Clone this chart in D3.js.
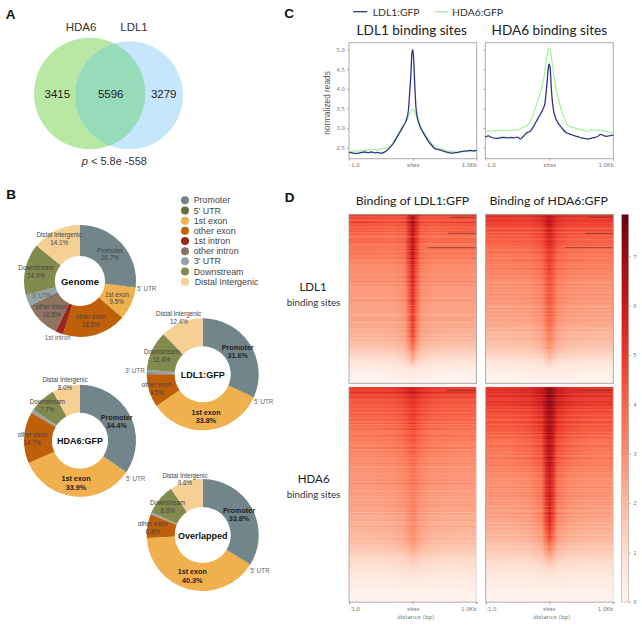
<!DOCTYPE html>
<html><head><meta charset="utf-8">
<script src="https://cdn.jsdelivr.net/npm/d3@7/dist/d3.min.js"></script>
<style>html,body{margin:0;padding:0;background:#fff}svg{display:block}
text{font-family:"Liberation Sans",Arial,sans-serif}
.lato{font-family:Lato,sans-serif}
.axis text{font-family:"DejaVu Sans",sans-serif;font-size:5.4px;fill:#777}
.axis path,.axis line{stroke:#999;stroke-width:.8}
</style></head><body><script>
// ---------- DATA ----------
const vennNames=["HDA6","LDL1"];
const vennCounts=[3415,5596,3279];
const vennP="5.8e -558";

const featureNames=["Promoter","5' UTR","1st exon","other exon","1st intron","other intron","3' UTR","Downstream","Distal Intergenic"];
const genomeShares=[26.7,0.2,9.5,18.5,2.3,10.5,3.3,14.9,14.1];
const ldl1Shares=[31.6,0.3,33.8,9.5,0.1,0.4,0.9,11.4,12.4];
const hda6Shares=[34.4,0.2,33.9,14.7,0.1,0.2,0.8,7.7,8.0];
const overlapShares=[33.8,0.2,40.3,6.8,0.1,0.1,0.5,8.8,9.6];
const featureColors=["#72858a","#69703f","#f0b04e","#c05f0a","#98281c","#8e7360","#93a3a6","#838a4e","#f5cf94"];

const profileX=[-1,-.95,-.9,-.85,-.8,-.75,-.7,-.65,-.6,-.55,-.5,-.45,-.4,-.35,-.3,-.25,-.2,-.15,-.1,-.07,-.05,-.03,-.015,0,.015,.03,.05,.07,.1,.15,.2,.25,.3,.35,.4,.45,.5,.55,.6,.65,.7,.75,.8,.85,.9,.95,1];
const ldl1AtLdl1=[2.38,2.37,2.35,2.36,2.38,2.39,2.37,2.39,2.37,2.38,2.36,2.38,2.44,2.52,2.62,2.76,2.9,3.05,3.22,3.45,3.9,4.4,4.9,5.0,4.7,4.1,3.5,3.28,3.1,2.92,2.78,2.65,2.55,2.47,2.45,2.43,2.4,2.38,2.36,2.37,2.38,2.4,2.41,2.42,2.43,2.42,2.43];
const hda6AtLdl1=[2.4,2.41,2.42,2.42,2.43,2.44,2.44,2.45,2.45,2.44,2.47,2.49,2.5,2.56,2.66,2.8,2.95,3.06,3.18,3.28,3.35,3.42,3.47,3.49,3.45,3.4,3.32,3.22,3.1,2.95,2.82,2.7,2.6,2.53,2.48,2.47,2.44,2.42,2.41,2.4,2.39,2.4,2.41,2.4,2.41,2.4,2.41];
const ldl1AtHda6=[2.77,2.8,2.76,2.74,2.74,2.76,2.76,2.75,2.76,2.75,2.77,2.72,2.8,2.88,2.92,3.03,3.18,3.32,3.48,3.62,3.9,4.25,4.55,4.63,4.5,4.05,3.65,3.42,3.25,3.1,3.0,2.9,2.86,2.83,2.8,2.78,2.75,2.74,2.72,2.74,2.76,2.78,2.84,2.81,2.79,2.81,2.82];
const hda6AtHda6=[2.89,2.93,2.92,2.93,2.94,2.95,2.94,2.95,2.94,2.95,2.95,2.98,3.03,3.07,3.15,3.35,3.6,3.85,4.15,4.45,4.7,4.9,5.02,5.05,5.0,4.85,4.6,4.35,4.05,3.7,3.4,3.2,3.05,3.03,3.0,2.98,2.96,2.94,2.92,2.96,2.94,2.95,2.94,2.92,2.91,2.89,2.88];
const yTickValues=[2.5,3,3.5,4,4.5,5];
const siteTickLabels=["-1.0","sites","1.0Kb"];
const colorTicks=[0,1,2,3,4,5,6,7];

// heatmap rows, top to bottom; columns are distance from site centre
const heatDistance=[1,.6,.3,.12,.05,0];
const heatLdl1AtLdl1=[[4.7,4.6,4.5,4.6,5.6,6.6],[4.5,4.4,4.3,4.4,5.5,6.5],[4.2,4.1,4.0,4.2,5.3,6.4],[3.9,3.9,3.8,4.0,5.2,6.3],[3.7,3.7,3.6,3.8,5.0,6.2],[3.5,3.5,3.4,3.7,4.9,6.1],[3.3,3.3,3.3,3.6,4.8,6.0],[3.1,3.1,3.1,3.4,4.6,5.8],[3.0,3.0,3.0,3.3,4.5,5.6],[2.9,2.9,2.9,3.2,4.4,5.5],[2.8,2.8,2.8,3.1,4.3,5.4],[2.7,2.7,2.7,3.0,4.2,5.3],[2.6,2.6,2.6,2.9,4.1,5.2],[2.5,2.5,2.5,2.8,4.0,5.1],[2.4,2.4,2.4,2.7,3.8,5.0],[2.2,2.2,2.3,2.6,3.6,4.8],[2.0,2.0,2.1,2.4,3.4,4.5],[1.8,1.8,1.9,2.2,3.0,4.0],[1.3,1.3,1.4,1.7,2.2,3.0],[0.8,0.8,0.9,1.1,1.5,2.2],[0.4,0.4,0.5,0.6,0.7,0.9],[0.15,0.15,0.2,0.25,0.3,0.3]];
const heatHda6AtLdl1=[[5.1,5.0,5.0,5.3,5.9,6.3],[4.8,4.8,4.8,5.1,5.7,6.1],[4.5,4.5,4.5,4.8,5.4,5.8],[4.2,4.2,4.2,4.6,5.2,5.6],[3.9,3.9,4.0,4.3,4.9,5.3],[3.7,3.7,3.8,4.1,4.7,5.1],[3.5,3.5,3.6,3.9,4.5,4.9],[3.3,3.3,3.4,3.7,4.3,4.7],[3.1,3.1,3.2,3.5,4.2,4.6],[3.0,3.0,3.1,3.4,4.1,4.5],[2.9,2.9,3.0,3.3,4.0,4.4],[2.8,2.8,2.9,3.2,3.9,4.3],[2.7,2.7,2.8,3.1,3.8,4.2],[2.6,2.6,2.7,3.0,3.7,4.1],[2.4,2.4,2.5,2.8,3.5,3.9],[2.2,2.2,2.3,2.6,3.3,3.7],[2.0,2.0,2.1,2.4,3.0,3.4],[1.7,1.7,1.8,2.1,2.6,3.0],[1.3,1.3,1.4,1.6,2.0,2.4],[0.8,0.8,0.9,1.0,1.3,1.7],[0.4,0.4,0.5,0.5,0.6,0.8],[0.15,0.15,0.2,0.2,0.25,0.3]];
const heatLdl1AtHda6=[[4.9,4.9,5.0,5.3,5.6,5.8],[4.6,4.6,4.7,5.0,5.3,5.5],[4.3,4.3,4.4,4.7,5.0,5.2],[4.0,4.0,4.1,4.4,4.7,4.9],[3.8,3.8,3.9,4.2,4.5,4.7],[3.6,3.6,3.7,4.0,4.3,4.5],[3.4,3.4,3.5,3.8,4.1,4.3],[3.2,3.2,3.3,3.6,3.9,4.1],[3.1,3.1,3.2,3.4,3.7,3.9],[3.0,3.0,3.1,3.3,3.6,3.8],[2.9,2.9,3.0,3.2,3.5,3.7],[2.8,2.8,2.9,3.1,3.4,3.6],[2.7,2.7,2.8,3.0,3.3,3.5],[2.6,2.6,2.7,2.9,3.2,3.4],[2.4,2.4,2.5,2.7,3.1,3.3],[2.3,2.3,2.4,2.6,3.0,3.2],[2.1,2.1,2.2,2.5,2.8,3.0],[1.9,1.9,2.0,2.3,2.6,2.8],[1.6,1.6,1.7,1.9,2.2,2.4],[1.2,1.2,1.3,1.4,1.6,1.8],[0.9,0.9,0.9,1.0,1.1,1.2],[0.6,0.6,0.6,0.7,0.7,0.8],[0.35,0.35,0.35,0.4,0.4,0.4],[0.15,0.15,0.15,0.2,0.2,0.2]];
const heatHda6AtHda6=[[5.4,5.4,5.6,6.1,6.9,7.4],[5.1,5.1,5.3,5.8,6.7,7.2],[4.8,4.8,5.0,5.5,6.5,7.0],[4.5,4.5,4.7,5.2,6.3,6.8],[4.3,4.3,4.5,5.0,6.1,6.6],[4.0,4.0,4.3,4.8,6.0,6.5],[3.8,3.8,4.1,4.6,5.9,6.4],[3.6,3.6,3.9,4.4,5.7,6.3],[3.4,3.4,3.7,4.2,5.5,6.2],[3.3,3.3,3.5,4.0,5.4,6.1],[3.1,3.1,3.3,3.8,5.3,6.0],[3.0,3.0,3.2,3.7,5.2,5.9],[2.9,2.9,3.1,3.6,5.1,5.8],[2.8,2.8,3.0,3.5,5.0,5.7],[2.6,2.6,2.8,3.3,4.8,5.6],[2.4,2.4,2.6,3.1,4.6,5.4],[2.2,2.2,2.4,2.8,4.2,5.0],[1.9,1.9,2.1,2.5,3.6,4.3],[1.6,1.6,1.7,2.0,2.7,3.2],[1.2,1.2,1.3,1.5,1.9,2.2],[0.9,0.9,0.9,1.0,1.2,1.4],[0.6,0.6,0.6,0.7,0.8,0.8],[0.35,0.35,0.35,0.4,0.4,0.4],[0.15,0.15,0.15,0.2,0.2,0.2]];
// row-to-row texture of the heatmaps (relative deviation)
const rowStreak=[.04,-.05,.09,-.02,-.08,.03,.12,-.06,.01,-.1,.06,.02,-.04,.1,-.07,-.01,.05,-.11,.08,.03,-.06,.13,-.03,-.09,.02,.07,-.05,.04,-.12,.09,.01,-.04,.06,-.08,.14,-.02,-.06,.03,.08,-.1,.05,-.03,.11,-.07,.02,-.05,.07,-.09,.04,.1,-.02,-.12,.06,.01,-.06,.09,-.04,.03,-.08,.12,-.01];
const colorMax=7.85;

// ---------- LAYOUT ----------
const W=642,H=626;
const svg=d3.select("body").append("svg").attr("width",W).attr("height",H);
const defs=svg.append("defs");
const label=(x,y,t,o={})=>svg.append("text").attr("x",x).attr("y",y).attr("dy",".35em")
  .attr("text-anchor",o.anchor||"middle").attr("font-size",o.size||6.3).attr("font-weight",o.bold?"bold":"normal")
  .attr("fill",o.fill||"#333").attr("class",o.cls||null).text(t);

[["A",10.7,14],["C",289,13],["B",11,194.7],["D",289.7,197.3]].forEach(d=>label(d[1],d[2],d[0],{size:13.5,bold:1,fill:"#111"}));

// ---- A: Venn ----
const vA={x:89.7,y:93.5,r:55.7},vB={x:129,y:95.3,r:54};
svg.append("circle").attr("cx",vA.x).attr("cy",vA.y).attr("r",vA.r).attr("fill","#b8e8a4");
svg.append("circle").attr("cx",vB.x).attr("cy",vB.y).attr("r",vB.r).attr("fill","#c6e7fb");
defs.append("clipPath").attr("id","vennClip").append("circle").attr("cx",vA.x).attr("cy",vA.y).attr("r",vA.r);
svg.append("circle").attr("cx",vB.x).attr("cy",vB.y).attr("r",vB.r).attr("fill","#97dcb9").attr("clip-path","url(#vennClip)");
label(81,27.3,vennNames[0],{size:11.5});label(134,27.3,vennNames[1],{size:11.5});
[57.3,110.7,163.7].forEach((x,i)=>label(x,94,vennCounts[i],{size:11.5,fill:"#222"}));
const pt=label(114.3,161.3,"",{size:11});
pt.append("tspan").attr("font-style","italic").text("p");pt.append("tspan").text(" < "+vennP);

// ---- B: donuts ----
const pie=d3.pie().sort(null).value(d=>d);
const donuts=[
 {v:genomeShares,name:"Genome",x:80,y:281,R:56,r:25,bold:false,size:9.5,labels:[[0,110,250.7,110,257.7],[1,146.7,288.7],[2,117,294.3,116.7,301.7],[3,90.7,316.7,90.7,324.3],[4,57.7,337.7],[5,51.7,307,51.7,314.3],[6,41.7,296],[7,36,268,36,275.3],[8,59,234.7,59.3,242.3]]},
 {v:ldl1Shares,name:"LDL1:GFP",x:202.7,y:374.3,R:56,r:28,bold:true,size:9,labels:[[0,237.7,347.3,237.7,355.7],[1,263.7,401.7],[2,206,412.3,206,420.7],[3,156.7,384.7,156.7,392.3],[6,135,370.3],[7,161.7,351.7,161.7,359.3],[8,178.7,313.3,179,321.3]]},
 {v:hda6Shares,name:"HDA6:GFP",x:80,y:440.7,R:56,r:28,bold:true,size:9,labels:[[0,116.7,417,116.7,425.3],[1,135.7,478.3],[2,76,478.3,76,487],[3,32.3,434.7,32.3,443],[7,47.3,402,47.3,409.7],[8,65,380,65,387.7]]},
 {v:overlapShares,name:"Overlapped",x:202.7,y:535,R:56,r:28,bold:true,size:9,labels:[[0,239,510.7,239,518.7],[1,260,570.3],[2,192.3,571.7,192.3,580],[3,152.7,523.3,152.7,531.3],[7,167.7,503,167.7,510.3],[8,185,475.3,185,483]]}
];
donuts.forEach(d=>{
  const arc=d3.arc().innerRadius(d.r).outerRadius(d.R);
  svg.append("g").attr("transform",`translate(${d.x},${d.y})`).selectAll("path").data(pie(d.v)).join("path")
    .attr("d",arc).attr("fill",(s,i)=>featureColors[i]);
  label(d.x,d.y+.5,d.name,{size:d.size,bold:1,fill:"#111"});
});
donuts.forEach(d=>{
  d.labels.forEach(l=>{
    const i=l[0],big=d.bold&&(i===0||i===2);
    const small=l.length===3;
    label(l[1],l[2],featureNames[i],{size:big?7.2:6.3,bold:big,fill:big?"#222":(small?"#666":"#444")});
    if(!small)label(l[3],l[4],d.v[i].toFixed(1)+"%",{size:big?7.2:6.3,bold:big,fill:big?"#222":"#444"});
  });
});
const legendY=d3.scalePoint().domain(featureNames).range([200.3,281.7]);
featureNames.forEach((n,i)=>{
  svg.append("circle").attr("cx",185).attr("cy",legendY(n)).attr("r",4).attr("fill",featureColors[i]);
  label(i===8?194.7:193.7,legendY(n),n,{size:8.9,anchor:"start",fill:"#444"});
});

// ---- C: profiles ----
const blue="#2e3585",green="#a6eea0";
const yP=d3.scaleLinear().domain([2.5,5]).range([147.7,49.7]);
const profilePanels=[{x0:349,x1:476.7,a:ldl1AtLdl1,b:hda6AtLdl1,title:"LDL1 binding sites",tx:411.7,lab:true,ticks:[354,412.7,469]},
 {x0:485.3,x1:613.3,a:ldl1AtHda6,b:hda6AtHda6,title:"HDA6 binding sites",tx:549.3,lab:false,ticks:[490,549.3,605.7]}];
profilePanels.forEach(p=>{
  const x=d3.scaleLinear().domain([-1,1]).range([p.x0,p.x1]);
  const line=s=>d3.line().x((d,i)=>x(profileX[i])).y(d=>yP(d)).curve(d3.curveMonotoneX)(s);
  svg.append("rect").attr("x",p.x0).attr("y",42.7).attr("width",p.x1-p.x0).attr("height",116).attr("fill","#fff").attr("stroke","#aaa").attr("stroke-width",1);
  svg.append("path").attr("d",line(p.b)).attr("fill","none").attr("stroke",green).attr("stroke-width",1.2);
  svg.append("path").attr("d",line(p.a)).attr("fill","none").attr("stroke",blue).attr("stroke-width",1.3);
  const ay=d3.axisLeft(yP).tickValues(yTickValues).tickSize(2).tickPadding(2).tickFormat(d3.format(".1f"));
  const gy=svg.append("g").attr("class","axis").attr("transform",`translate(${p.x0},0)`).call(ay);
  gy.select(".domain").remove();
  if(!p.lab)gy.selectAll("text").remove();
  const ax=d3.axisBottom(x).tickValues([-1,0,1]).tickSize(2).tickPadding(2).tickFormat((d,i)=>siteTickLabels[i]);
  const gx=svg.append("g").attr("class","axis").attr("transform","translate(0,158.7)").call(ax);
  gx.select(".domain").remove();
  gx.selectAll("text").attr("x",(d,i)=>p.ticks[i]-x(d));
  label(p.tx,30,p.title,{size:13.6,cls:"lato",fill:"#222"});
});
label(326.7,103,"normalized reads",{size:8.3,fill:"#555"}).attr("transform","rotate(-90 326.7 103)");
svg.append("line").attr("x1",353.3).attr("x2",367.3).attr("y1",11.7).attr("y2",11.7).attr("stroke",blue).attr("stroke-width",1.3);
label(372.7,12,"LDL1:GFP",{size:10.4,anchor:"start",cls:"lato",fill:"#333"});
svg.append("line").attr("x1",435.3).attr("x2",448.3).attr("y1",11.7).attr("y2",11.7).attr("stroke",green).attr("stroke-width",1.3);
label(452,12,"HDA6:GFP",{size:10.4,anchor:"start",cls:"lato",fill:"#333"});

// ---- D: heatmaps ----
const color=d3.scaleSequential(d3.interpolateReds).domain([0,colorMax]);
defs.append("filter").attr("id","soft").attr("x","-5%").attr("y","-5%").attr("width","110%").attr("height","110%")
  .append("feGaussianBlur").attr("stdDeviation","0.7 0.3");
const distSigned=[...heatDistance.map(d=>-d),...heatDistance.slice(0,-1).reverse()];
const heatPanels=[
 {id:"tl",x0:349,x1:476.3,y0:214.3,y1:383.3,t:heatLdl1AtLdl1,shift:0,dark:[[451,217.3],[448.3,233.3],[428.3,247.7]]},
 {id:"tr",x0:485.7,x1:613.3,y0:214.3,y1:383.3,t:heatHda6AtLdl1,shift:17,dark:[[588,217.3],[585,233.3],[565,247.7]]},
 {id:"bl",x0:349,x1:476.3,y0:386.7,y1:601.7,t:heatLdl1AtHda6,shift:31,dark:[[446,390.5]]},
 {id:"br",x0:485.7,x1:613.3,y0:386.7,y1:601.7,t:heatHda6AtHda6,shift:43,dark:[[582,390.5]]}
];
const subPerRow=6;
heatPanels.forEach(p=>{
  const x=d3.scaleLinear().domain([-1,1]).range([p.x0,p.x1]);
  const sub=d3.range(p.t.length*subPerRow);
  const y=d3.scaleBand().domain(sub).range([p.y0,p.y1]);
  defs.append("clipPath").attr("id","c"+p.id).append("rect").attr("x",p.x0).attr("y",p.y0).attr("width",p.x1-p.x0).attr("height",p.y1-p.y0);
  const clip=svg.append("g").attr("clip-path",`url(#c${p.id})`);
  const g=clip.append("g").attr("filter","url(#soft)");
  sub.forEach(i=>{
    // colour blend between neighbouring table rows so the map has no visible steps
    const k=Math.floor(i/subPerRow),fr=(i%subPerRow)/subPerRow;
    const a=p.t[k],b=p.t[Math.min(k+1,p.t.length-1)];
    const row=a.map((v,j)=>v+(b[j]-v)*fr);
    const n=rowStreak.length;
    const f=1+.6*rowStreak[(i+p.shift)%n]+.5*rowStreak[(i*7+p.shift)%n];
    const vals=[...row,...row.slice(0,-1).reverse()];
    const gid=`g${p.id}${i}`;
    const lg=defs.append("linearGradient").attr("id",gid);
    vals.forEach((v,j)=>lg.append("stop").attr("offset",(distSigned[j]+1)/2).attr("stop-color",color(v*f)));
    g.append("rect").attr("x",p.x0-3).attr("width",p.x1-p.x0+6).attr("y",y(i)).attr("height",y.bandwidth()+.5).attr("fill",`url(#${gid})`);
  });
  p.dark.forEach(d=>clip.append("line").attr("x1",d[0]).attr("x2",p.x1).attr("y1",d[1]).attr("y2",d[1]).attr("stroke","#8a3325").attr("stroke-width",.8));
  if(p.y0<300){
    clip.append("rect").attr("x",p.x0).attr("y",p.y0).attr("width",p.x1-p.x0).attr("height",1.2).attr("fill","#a53a2c").attr("opacity",.7);
    svg.append("rect").attr("x",p.x0).attr("y",p.y0).attr("width",p.x1-p.x0).attr("height",p.y1-p.y0).attr("fill","none").attr("stroke","#999").attr("stroke-width",.8);
  } else {
    const ax=d3.axisBottom(x).tickValues([-1,0,1]).tickSize(2.5).tickPadding(2.5).tickFormat((d,i)=>siteTickLabels[i]);
    const gx=svg.append("g").attr("class","axis").attr("transform",`translate(0,${p.y1})`).call(ax);
    const tickX=p.id==="bl"?[354.3,412.7,468.3]:[490.7,548.7,605];
    gx.selectAll("text").attr("x",(d,i)=>tickX[i]-x(d));
    svg.append("line").attr("x1",p.x0).attr("x2",p.x0).attr("y1",p.y0).attr("y2",p.y1).attr("stroke","#999").attr("stroke-width",.8);
    svg.append("line").attr("x1",p.x1).attr("x2",p.x1).attr("y1",p.y0).attr("y2",p.y1).attr("stroke","#ccc").attr("stroke-width",.6);
    svg.append("text").attr("x",p.id==="bl"?415.7:551.7).attr("y",617.3).attr("dy",".35em").attr("text-anchor","middle")
      .attr("font-size",5.6).attr("fill","#777").style("font-family","DejaVu Sans").text("distance (bp)");
  }
});
label(412.5,200.7,"Binding of LDL1:GFP",{size:12.3,cls:"lato",fill:"#222"});
label(548.7,200.7,"Binding of HDA6:GFP",{size:12.3,cls:"lato",fill:"#222"});
label(313,286.7,"LDL1",{size:11.5,cls:"lato",fill:"#222"});
label(313.5,302.3,"binding sites",{size:9.8,cls:"lato",fill:"#333"});
label(313.7,479,"HDA6",{size:11.5,cls:"lato",fill:"#222"});
label(313.5,495,"binding sites",{size:9.8,cls:"lato",fill:"#333"});

// colour bar
const cy=d3.scaleLinear().domain([0,colorMax]).range([602,214.3]);
const cg=defs.append("linearGradient").attr("id","cbar").attr("x1",0).attr("x2",0).attr("y1",1).attr("y2",0);
d3.range(0,1.001,.05).forEach(t=>cg.append("stop").attr("offset",t).attr("stop-color",color(t*colorMax)));
svg.append("rect").attr("x",621.7).attr("y",214.3).attr("width",7).attr("height",387.7).attr("fill","url(#cbar)").attr("stroke","#aaa").attr("stroke-width",.6);
const gc=svg.append("g").attr("class","axis").attr("transform","translate(628.7,0)").call(d3.axisRight(cy).tickValues(colorTicks).tickSize(2).tickPadding(2.5).tickFormat(d3.format("d")));
gc.select(".domain").remove();
</script></body></html>
